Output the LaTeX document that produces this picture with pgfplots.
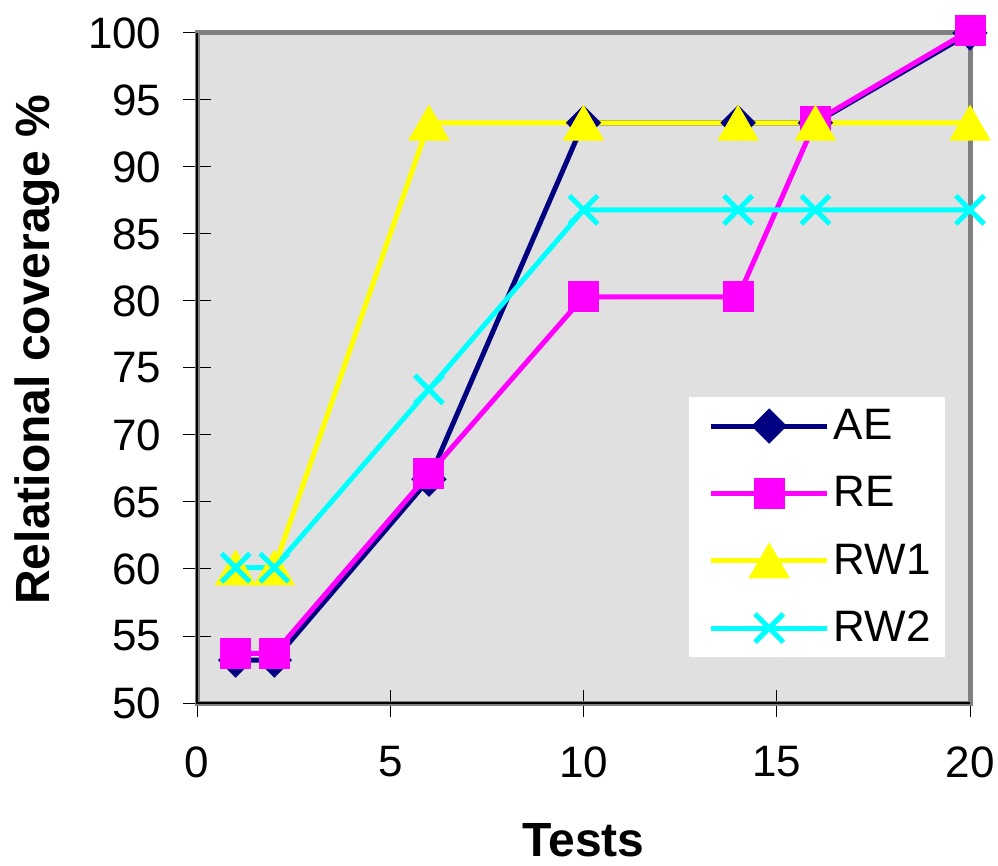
\documentclass[border=0pt]{standalone}
\usepackage{pgfplots}
\pgfplotsset{compat=1.18}
\usepackage{fontspec}
\setmainfont{Liberation Sans}
\definecolor{bgray}{HTML}{E0E0E0}
\definecolor{bordergray}{HTML}{808080}
\definecolor{navyc}{HTML}{000080}
\definecolor{magc}{HTML}{FF00FF}
\definecolor{yelc}{HTML}{FFFF00}
\definecolor{cyac}{HTML}{00FFFF}
\begin{document}
\begin{tikzpicture}
\begin{axis}[
  scale only axis,
  width=386.5pt, height=335pt,
  xmin=0, xmax=20, ymin=50, ymax=100,
  xtick={0,5,10,15,20},
  ytick={50,55,...,100},
  tick pos=left,
  tick align=center,
  major tick length=13.5pt,
  tick style={black, line width=0.5pt},
  axis background/.style={fill=bgray},
  axis line style={draw=bordergray, line width=2.5pt},
  clip=false,
  /pgf/number format/assume math mode=true,
  ticklabel style={font=\fontsize{22}{26}\selectfont},
  yticklabel style={xshift=-7.5pt},
  xticklabel style={yshift=-11.5pt},
  xlabel={Tests},
  ylabel={Relational coverage \%},
  every axis x label/.style={at={(rel axis cs:0.5,0)}, anchor=center, yshift=-68.5pt, font=\fontsize{24}{28}\selectfont\bfseries},
  every axis y label/.style={at={(rel axis cs:0,0.527)}, anchor=center, xshift=-80pt, rotate=90, font=\fontsize{24}{28}\selectfont\bfseries},
  legend style={fill=white, draw=none, at={(0.9677,0.4567)}, anchor=north east,
    font=\fontsize{22}{26}\selectfont, inner xsep=5pt, inner ysep=4pt, row sep=13pt},
  legend cell align=left,
  legend image code/.code={\path (0pt,0pt); \draw[mark repeat=2,mark phase=2,#1] plot coordinates {(5pt,0pt) (34pt,0pt) (63pt,0pt)};},
]
\draw[black, line width=0.6pt] (rel axis cs:0,1) -- (rel axis cs:0,0) -- (rel axis cs:1,0);
\addplot[navyc, line width=2.5pt, mark=square*, mark size=6pt, mark options={rotate=45, line width=0.5pt, fill=navyc}]
  coordinates {(1,53.2) (2,53.2) (6,66.7) (10,93.3) (14,93.3) (16,93.3) (20,100)};
\addlegendentry{AE}
\addplot[magc, line width=2.5pt, mark=square*, mark size=7.5pt, mark options={line width=0.5pt, fill=magc}]
  coordinates {(1,53.7) (2,53.7) (6,67.1) (10,80.3) (14,80.3) (16,93.4) (20,100.2)};
\addlegendentry{RE}
\addplot[yelc, line width=2.5pt, mark=triangle*, mark size=11.5pt, mark options={line width=0.5pt, fill=yelc, yshift=-2.9pt}]
  coordinates {(1,60.1) (2,60.1) (6,93.3) (10,93.3) (14,93.3) (16,93.3) (20,93.3)};
\addlegendentry{RW1}
\addplot[cyac, line width=2.5pt, mark=x, mark size=10pt, mark options={line width=2.5pt}]
  coordinates {(1,60.1) (2,60.1) (6,73.4) (10,86.8) (14,86.8) (16,86.8) (20,86.8)};
\addlegendentry{RW2}
\end{axis}
\pgfresetboundingbox
\path ([xshift=-98.5pt,yshift=-81pt]current axis.south west) rectangle ([xshift=14pt,yshift=16.5pt]current axis.north east);
\end{tikzpicture}
\end{document}
